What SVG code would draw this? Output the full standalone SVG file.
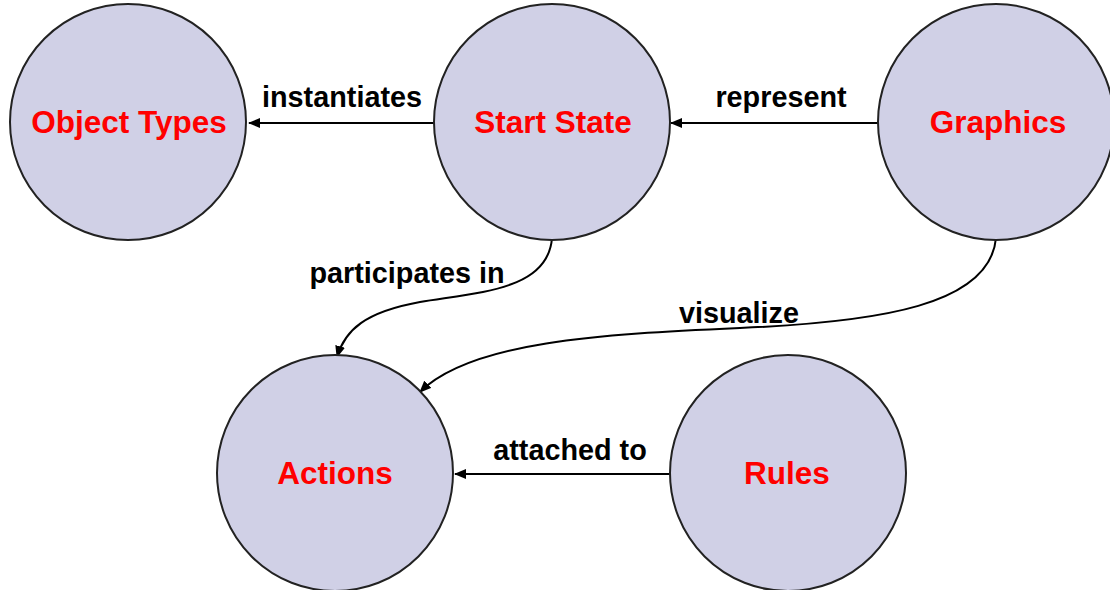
<svg xmlns="http://www.w3.org/2000/svg" width="1110" height="590" viewBox="0 0 1110 590">
<style>
.node{fill:#D0D0E6;stroke:#222;stroke-width:2}
.nl{font-family:"Liberation Sans",Arial,sans-serif;font-weight:bold;font-size:31.5px;fill:#FF0000;text-anchor:middle}
.el{font-family:"Liberation Sans",Arial,sans-serif;font-weight:bold;font-size:28.8px;fill:#000;text-anchor:middle}
.edge{fill:none;stroke:#000;stroke-width:2}
</style>
<defs>
<marker id="arr" markerWidth="12" markerHeight="10" refX="11" refY="5" orient="auto" markerUnits="userSpaceOnUse">
<path d="M0,0 L12,5 L0,10 Z" fill="#000"/>
</marker>
</defs>
<rect width="1110" height="590" fill="#fff"/>
<g id="connectors">
<path class="edge" d="M434,123 L249,123" marker-end="url(#arr)"/>
<path class="edge" d="M878,123 L671,123" marker-end="url(#arr)"/>
<path class="edge" d="M670,474 L455,474" marker-end="url(#arr)"/>
<path class="edge" d="M552,238 C548,290 480,292 420,302 C365,312 345,330 337,357" marker-end="url(#arr)"/>
<path class="edge" d="M996,238 C990,305 880,322 740,328 C600,334 470,342 420,392" marker-end="url(#arr)"/>
<text class="el" x="342" y="107">instantiates</text>
<text class="el" x="781" y="107">represent</text>
<text class="el" x="407" y="283">participates in</text>
<text class="el" x="739" y="323">visualize</text>
<text class="el" x="570" y="460">attached to</text>
</g>
<g id="object-types">
<circle class="node" cx="128" cy="122" r="118"/>
<text class="nl" x="129" y="133">Object Types</text>
</g>
<g id="start-state">
<circle class="node" cx="552" cy="122" r="118"/>
<text class="nl" x="553" y="133">Start State</text>
</g>
<g id="graphics">
<circle class="node" cx="996" cy="122" r="118"/>
<text class="nl" x="998" y="133">Graphics</text>
</g>
<g id="actions">
<circle class="node" cx="335" cy="473" r="118"/>
<text class="nl" x="335" y="484">Actions</text>
</g>
<g id="rules">
<circle class="node" cx="788" cy="473" r="118"/>
<text class="nl" x="787" y="484">Rules</text>
</g>
</svg>
